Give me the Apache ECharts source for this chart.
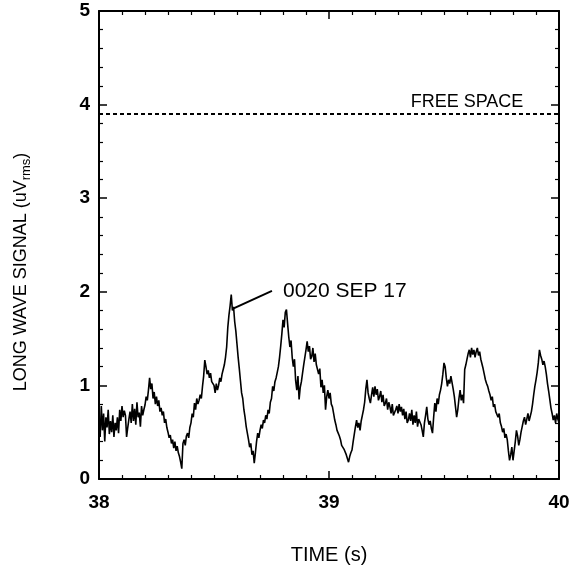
<!DOCTYPE html>
<html>
<head>
<meta charset="utf-8">
<script src="https://cdn.jsdelivr.net/npm/echarts@6/dist/echarts.min.js"></script>
<style>
html,body{margin:0;padding:0;background:#fff;}
#c{width:573px;height:574px;}
</style>
</head>
<body>
<div id="c"></div>
<script>
// Time axis: samples start at 38 s, one every 0.005 s
const tStart = 38;
const tStep = 0.005;
const xTicks = [38, 39, 40];
const yTicks = [0, 1, 2, 3, 4, 5];
const freeSpace = 3.9;
const annotation = { text: '0020 SEP 17', from: [38.583, 1.82], to: [38.752, 2.01] };
const signal = [
0.63,0.45,0.78,0.52,0.70,0.40,0.66,0.55,0.74,0.48,
0.62,0.50,0.68,0.45,0.60,0.52,0.66,0.49,0.74,0.62,
0.78,0.66,0.73,0.68,0.45,0.55,0.64,0.72,0.60,0.80,
0.62,0.75,0.58,0.82,0.66,0.71,0.56,0.78,0.68,0.74,
0.79,0.88,0.84,0.95,1.08,0.96,1.02,0.86,0.93,0.80,
0.88,0.78,0.84,0.72,0.76,0.68,0.72,0.60,0.64,0.55,
0.50,0.44,0.47,0.38,0.42,0.33,0.40,0.30,0.35,0.28,
0.24,0.18,0.11,0.38,0.42,0.36,0.46,0.49,0.44,0.55,
0.60,0.70,0.66,0.81,0.74,0.86,0.80,0.84,0.90,0.86,
0.99,1.10,1.27,1.20,1.12,1.16,1.08,1.13,1.04,1.06,
1.00,0.92,1.02,0.95,1.00,1.08,1.04,1.12,1.17,1.22,
1.30,1.41,1.62,1.75,1.85,1.97,1.80,1.84,1.68,1.58,
1.44,1.30,1.18,1.05,0.92,0.86,0.74,0.66,0.56,0.49,
0.42,0.34,0.38,0.26,0.30,0.17,0.28,0.40,0.49,0.44,
0.52,0.58,0.54,0.63,0.60,0.68,0.64,0.74,0.70,0.82,
0.86,0.99,0.94,1.04,1.08,1.14,1.20,1.30,1.42,1.55,
1.70,1.62,1.78,1.81,1.66,1.52,1.41,1.48,1.30,1.20,
1.28,1.05,0.95,1.10,0.85,0.98,1.04,1.13,1.22,1.30,
1.38,1.47,1.36,1.42,1.28,1.31,1.40,1.25,1.34,1.22,
1.20,1.12,1.18,0.98,1.06,0.92,1.00,0.74,0.88,0.95,
0.86,0.92,0.80,0.77,0.70,0.63,0.58,0.52,0.49,0.46,
0.42,0.36,0.38,0.32,0.34,0.26,0.22,0.18,0.24,0.28,
0.31,0.40,0.48,0.56,0.63,0.55,0.60,0.52,0.62,0.68,
0.74,0.82,0.96,1.06,0.92,0.86,0.81,0.90,0.98,0.88,
0.99,0.90,0.96,0.84,0.88,0.94,0.82,0.90,0.78,0.81,
0.86,0.74,0.82,0.77,0.70,0.80,0.68,0.66,0.74,0.78,
0.70,0.80,0.72,0.77,0.68,0.75,0.64,0.72,0.60,0.63,
0.70,0.62,0.74,0.58,0.68,0.60,0.72,0.56,0.64,0.66,
0.58,0.52,0.45,0.60,0.68,0.77,0.64,0.58,0.62,0.54,
0.49,0.66,0.81,0.72,0.86,0.80,0.90,0.95,1.02,1.12,
1.24,1.20,1.08,0.99,1.06,1.02,1.10,1.09,0.96,0.88,
0.77,0.66,0.74,0.86,0.95,0.84,0.90,0.81,1.17,1.22,
1.28,1.34,1.38,1.30,1.40,1.33,1.38,1.30,1.36,1.40,
1.32,1.36,1.28,1.27,1.18,1.12,1.06,1.02,0.99,0.94,
0.90,0.84,0.88,0.77,0.80,0.72,0.74,0.66,0.70,0.60,
0.56,0.50,0.54,0.44,0.48,0.42,0.30,0.20,0.26,0.34,
0.20,0.30,0.40,0.52,0.46,0.36,0.42,0.50,0.56,0.62,
0.66,0.58,0.64,0.70,0.62,0.60,0.72,0.80,0.90,0.99,
1.06,1.14,1.24,1.38,1.32,1.28,1.22,1.26,1.20,1.12,
1.02,0.94,0.85,0.76,0.70,0.63,0.68,0.60,0.70,0.64,0.60
];

const data = signal.map((v, i) => [+(tStart + i * tStep).toFixed(3), v]);
const FONT = '"Liberation Sans", Arial, Helvetica, sans-serif';

const chart = echarts.init(document.getElementById('c'), null, { renderer: 'canvas' });

const axisCommon = {
  axisLine: { show: true, onZero: false, lineStyle: { color: '#000', width: 2 } },
  axisTick: { show: true, inside: true, length: 8, lineStyle: { color: '#000', width: 1.5 } },
  minorTick: { show: true, length: 4, lineStyle: { color: '#000', width: 1.2 } },
  splitLine: { show: false },
  minorSplitLine: { show: false }
};

chart.setOption({
  animation: false,
  backgroundColor: '#fff',
  grid: { left: 99, right: 14, top: 11, bottom: 95 },
  xAxis: [
    Object.assign({}, axisCommon, {
      type: 'value', min: xTicks[0], max: xTicks[xTicks.length - 1], interval: 1,
      minorTick: Object.assign({}, axisCommon.minorTick, { splitNumber: 10 }),
      axisLabel: { show: true, margin: 14, color: '#000', fontFamily: FONT, fontWeight: 'bold', fontSize: 19 },
      name: 'TIME (s)', nameLocation: 'middle', nameGap: 66,
      nameTextStyle: { color: '#000', fontFamily: FONT, fontSize: 20 }
    }),
    Object.assign({}, axisCommon, {
      type: 'value', position: 'top', min: xTicks[0], max: xTicks[xTicks.length - 1], interval: 1,
      minorTick: Object.assign({}, axisCommon.minorTick, { splitNumber: 10 }),
      axisLabel: { show: false }
    })
  ],
  yAxis: [
    Object.assign({}, axisCommon, {
      type: 'value', min: yTicks[0], max: yTicks[yTicks.length - 1], interval: 1,
      minorTick: Object.assign({}, axisCommon.minorTick, { splitNumber: 5 }),
      axisLabel: { show: true, margin: 9, color: '#000', fontFamily: FONT, fontWeight: 'bold', fontSize: 19 }
    }),
    Object.assign({}, axisCommon, {
      type: 'value', position: 'right', min: yTicks[0], max: yTicks[yTicks.length - 1], interval: 1,
      minorTick: Object.assign({}, axisCommon.minorTick, { splitNumber: 5 }),
      axisLabel: { show: false }
    })
  ],
  series: [
    {
      type: 'line',
      data: data,
      showSymbol: false,
      symbol: 'none',
      sampling: null,
      lineStyle: { color: '#000', width: 1.6 },
      z: 3,
      markLine: {
        silent: true,
        symbol: ['none', 'none'],
        animation: false,
        data: [
          {
            yAxis: freeSpace,
            lineStyle: { color: '#000', width: 2, type: [4, 3] },
            label: { show: false }
          },
          [
            { coord: annotation.from, lineStyle: { color: '#000', width: 2, type: 'solid' }, label: { show: false } },
            { coord: annotation.to }
          ]
        ]
      }
    }
  ]
});

function place() {
  const pText = chart.convertToPixel({ xAxisIndex: 0, yAxisIndex: 0 }, annotation.to);
  const pFree = chart.convertToPixel({ xAxisIndex: 0, yAxisIndex: 0 }, [39.6, freeSpace]);
  const pTop = chart.convertToPixel({ xAxisIndex: 0, yAxisIndex: 0 }, [38, 5]);
  const pBot = chart.convertToPixel({ xAxisIndex: 0, yAxisIndex: 0 }, [38, 0]);
  chart.setOption({
    graphic: [
      {
        type: 'text', x: pText[0] + 11, y: pText[1],
        style: { text: annotation.text, fill: '#000', font: '21px ' + FONT, textAlign: 'left', textVerticalAlign: 'middle' }
      },
      {
        type: 'text', x: pFree[0], y: pFree[1] - 12,
        style: { text: 'FREE SPACE', fill: '#000', font: '18px ' + FONT, textAlign: 'center', textVerticalAlign: 'middle' }
      },
      {
        type: 'text', x: 21, y: (pTop[1] + pBot[1]) / 2 + 27, rotation: Math.PI / 2,
        style: {
          text: '{a|LONG WAVE SIGNAL (uV}{s|rms}{a|)}',
          textAlign: 'center', textVerticalAlign: 'middle',
          rich: {
            a: { fill: '#000', fontFamily: FONT, fontSize: 18, verticalAlign: 'middle' },
            s: { fill: '#000', fontFamily: FONT, fontSize: 13, verticalAlign: 'bottom', padding: [10, 0, 0, 0] }
          }
        }
      }
    ]
  });
}
place();
</script>
</body>
</html>
